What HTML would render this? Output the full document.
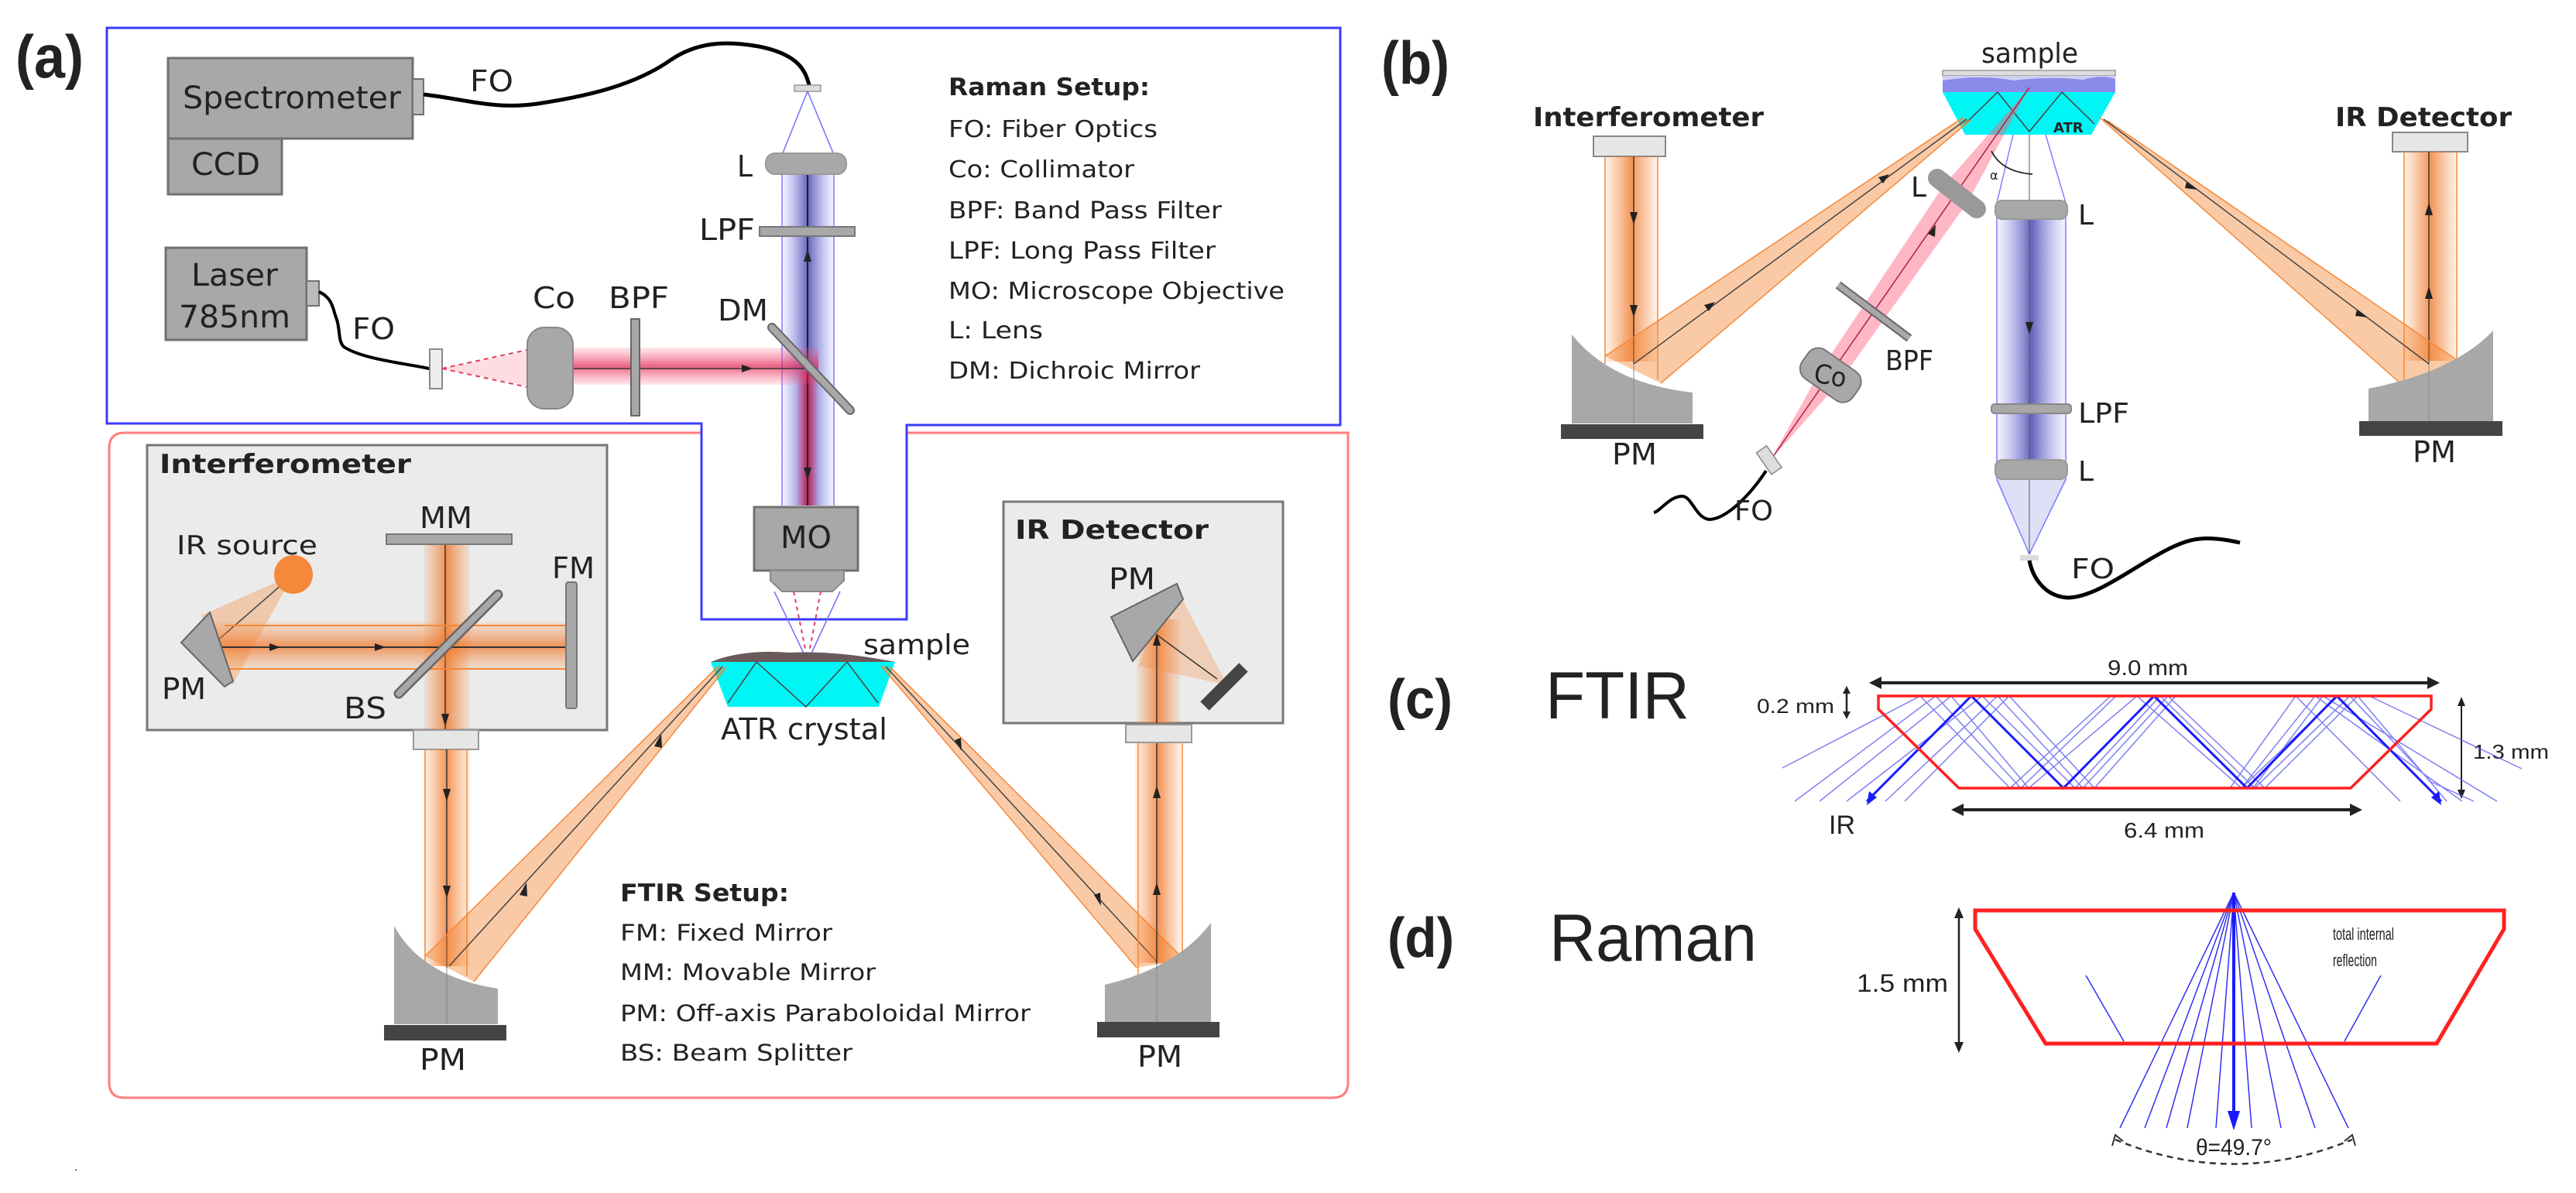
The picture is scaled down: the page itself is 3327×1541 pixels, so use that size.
<!DOCTYPE html>
<html><head><meta charset="utf-8"><style>
html,body{margin:0;padding:0;background:#fff;}
svg{display:block;}
text{font-family:"DejaVu Sans","Liberation Sans",sans-serif;fill:#222;}
.big{font-family:"Liberation Sans",sans-serif;}
</style></head><body>
<svg width="3327" height="1541" viewBox="0 0 3327 1541" xmlns="http://www.w3.org/2000/svg">
<defs>
<linearGradient id="bh" x1="0" x2="1" y1="0" y2="0">
<stop offset="0" stop-color="#8080ff" stop-opacity="0.05"/><stop offset="0.5" stop-color="#3030a0" stop-opacity="0.75"/><stop offset="1" stop-color="#8080ff" stop-opacity="0.05"/></linearGradient>
<linearGradient id="rh" x1="0" x2="1" y1="0" y2="0">
<stop offset="0" stop-color="#ff4060" stop-opacity="0.1"/><stop offset="0.5" stop-color="#d01040" stop-opacity="0.8"/><stop offset="1" stop-color="#ff4060" stop-opacity="0.1"/></linearGradient>
<linearGradient id="rv" x1="0" x2="0" y1="0" y2="1">
<stop offset="0" stop-color="#ff6080" stop-opacity="0.15"/><stop offset="0.5" stop-color="#e02050" stop-opacity="0.7"/><stop offset="1" stop-color="#ff6080" stop-opacity="0.15"/></linearGradient>
<linearGradient id="oh" x1="0" x2="1" y1="0" y2="0">
<stop offset="0" stop-color="#f58a3a" stop-opacity="0.1"/><stop offset="0.5" stop-color="#f07020" stop-opacity="0.75"/><stop offset="1" stop-color="#f58a3a" stop-opacity="0.1"/></linearGradient>
<linearGradient id="ov" x1="0" x2="0" y1="0" y2="1">
<stop offset="0" stop-color="#f58a3a" stop-opacity="0.1"/><stop offset="0.5" stop-color="#f07020" stop-opacity="0.7"/><stop offset="1" stop-color="#f58a3a" stop-opacity="0.1"/></linearGradient>
</defs>

<!-- ============ PANEL A ============ -->
<text x="20" y="100" class="big" font-size="78" font-weight="bold" fill="#000" textLength="88" lengthAdjust="spacingAndGlyphs">(a)</text>

<path d="M161,559 H1741 V1398 Q1741,1418 1721,1418 H161 Q141,1418 141,1398 V579 Q141,559 161,559 Z" fill="none" stroke="#ff7f7f" stroke-width="3"/>
<path d="M138,36 H1731 V549 H1171 V800 H906 V547 H138 Z" fill="#fff" stroke="#3b3bff" stroke-width="3"/>

<rect x="217" y="75" width="316" height="104" fill="#a8a8a8" stroke="#707070" stroke-width="3"/>
<rect x="533" y="102" width="14" height="46" fill="#bbb" stroke="#707070" stroke-width="2"/>
<rect x="217" y="179" width="147" height="72" fill="#a8a8a8" stroke="#707070" stroke-width="3"/>
<text x="236" y="140" font-size="40" textLength="282" lengthAdjust="spacingAndGlyphs">Spectrometer</text>
<text x="247" y="226" font-size="40" textLength="89" lengthAdjust="spacingAndGlyphs">CCD</text>
<text x="607" y="118" font-size="38" textLength="56" lengthAdjust="spacingAndGlyphs">FO</text>
<path d="M547,122 C600,128 640,142 694,134 C760,124 820,110 867,77 C900,55 935,52 980,60 C1030,70 1040,90 1045,110" fill="none" stroke="#000" stroke-width="5"/>
<rect x="1026" y="110" width="34" height="8" fill="#ddd" stroke="#999" stroke-width="1.5"/>

<rect x="214" y="320" width="182" height="119" fill="#a8a8a8" stroke="#707070" stroke-width="3"/>
<rect x="396" y="363" width="16" height="32" fill="#bbb" stroke="#707070" stroke-width="2"/>
<text x="247" y="369" font-size="40" textLength="112" lengthAdjust="spacingAndGlyphs">Laser</text>
<text x="231" y="423" font-size="40" textLength="144" lengthAdjust="spacingAndGlyphs">785nm</text>
<path d="M412,377 C430,385 430,400 434,410 C440,425 436,440 444,448 C470,465 530,470 558,477" fill="none" stroke="#000" stroke-width="4"/>
<text x="455" y="438" font-size="38" textLength="55" lengthAdjust="spacingAndGlyphs">FO</text>
<rect x="555" y="451" width="16" height="51" fill="#eee" stroke="#888" stroke-width="2"/>

<line x1="1043" y1="118" x2="1010" y2="200" stroke="#7070ff" stroke-width="1.5"/>
<line x1="1043" y1="118" x2="1077" y2="200" stroke="#7070ff" stroke-width="1.5"/>
<rect x="1008" y="212" width="71" height="441" fill="url(#bh)"/>
<line x1="1010" y1="212" x2="1010" y2="653" stroke="#8080ff" stroke-width="1.5"/>
<line x1="1077" y1="212" x2="1077" y2="653" stroke="#8080ff" stroke-width="1.5"/>
<rect x="1030" y="480" width="26" height="173" fill="url(#rh)"/>
<line x1="1043" y1="225" x2="1043" y2="653" stroke="#222" stroke-width="2"/>
<polygon points="1043,322 1038,338 1048,338" fill="#222"/>
<polygon points="1043,620 1038,604 1048,604" fill="#222"/>
<polygon points="571,476 690,452 690,500" fill="#ff9aaa" opacity="0.35"/>
<line x1="571" y1="476" x2="681" y2="452" stroke="#e04060" stroke-width="2" stroke-dasharray="6,5"/>
<line x1="571" y1="476" x2="681" y2="500" stroke="#e04060" stroke-width="2" stroke-dasharray="6,5"/>
<rect x="740" y="449" width="317" height="48" fill="url(#rv)"/>
<line x1="740" y1="476" x2="1045" y2="476" stroke="#333" stroke-width="1.5"/>
<polygon points="972,476 958,471 958,481" fill="#222"/>
<rect x="681" y="423" width="59" height="105" rx="22" fill="#a8a8a8" stroke="#888" stroke-width="2"/>
<rect x="815" y="412" width="11" height="125" fill="#a8a8a8" stroke="#666" stroke-width="2"/>
<text x="688" y="398" font-size="38" textLength="55" lengthAdjust="spacingAndGlyphs">Co</text>
<text x="786" y="398" font-size="38" textLength="78" lengthAdjust="spacingAndGlyphs">BPF</text>
<line x1="997" y1="423" x2="1098" y2="530" stroke="#666" stroke-width="12" stroke-linecap="round"/>
<line x1="997" y1="423" x2="1098" y2="530" stroke="#a8a8a8" stroke-width="8" stroke-linecap="round"/>
<text x="927" y="414" font-size="38" textLength="65" lengthAdjust="spacingAndGlyphs">DM</text>
<rect x="989" y="198" width="104" height="27" rx="12" fill="#a8a8a8" stroke="#999" stroke-width="2"/>
<text x="952" y="228" font-size="38" textLength="20" lengthAdjust="spacingAndGlyphs">L</text>
<rect x="981" y="293" width="123" height="12" fill="#a8a8a8" stroke="#777" stroke-width="2"/>
<text x="903" y="310" font-size="38" textLength="72" lengthAdjust="spacingAndGlyphs">LPF</text>

<text x="1225" y="123" font-size="31" font-weight="bold" fill="#111" textLength="260" lengthAdjust="spacingAndGlyphs">Raman Setup:</text>
<g font-size="30" fill="#333">
<text x="1225" y="177" textLength="270" lengthAdjust="spacingAndGlyphs">FO: Fiber Optics</text>
<text x="1225" y="229" textLength="240" lengthAdjust="spacingAndGlyphs">Co: Collimator</text>
<text x="1225" y="282" textLength="353" lengthAdjust="spacingAndGlyphs">BPF: Band Pass Filter</text>
<text x="1225" y="334" textLength="345" lengthAdjust="spacingAndGlyphs">LPF: Long Pass Filter</text>
<text x="1225" y="386" textLength="434" lengthAdjust="spacingAndGlyphs">MO: Microscope Objective</text>
<text x="1225" y="437" textLength="122" lengthAdjust="spacingAndGlyphs">L: Lens</text>
<text x="1225" y="489" textLength="325" lengthAdjust="spacingAndGlyphs">DM: Dichroic Mirror</text>
</g>

<rect x="974" y="655" width="134" height="82" fill="#a8a8a8" stroke="#707070" stroke-width="3"/>
<path d="M995,737 H1090 V750 L1075,764 H1010 L995,750 Z" fill="#a8a8a8" stroke="#888" stroke-width="2"/>
<text x="1008" y="708" font-size="40" textLength="66" lengthAdjust="spacingAndGlyphs">MO</text>
<line x1="1000" y1="764" x2="1040" y2="848" stroke="#7070ff" stroke-width="1.5"/>
<line x1="1085" y1="764" x2="1046" y2="848" stroke="#7070ff" stroke-width="1.5"/>
<line x1="1025" y1="764" x2="1042" y2="848" stroke="#e04060" stroke-width="2" stroke-dasharray="5,5"/>
<line x1="1060" y1="764" x2="1044" y2="848" stroke="#e04060" stroke-width="2" stroke-dasharray="5,5"/>

<polygon points="918,855 1156,855 1135,913 940,913" fill="#00f5f5"/>
<path d="M918,855 Q960,838 1020,843 Q1080,840 1156,855 Z" fill="#6a5a5a"/>
<polyline points="940,908 977,855 1041,913 1094,855 1134,908" fill="none" stroke="#444" stroke-width="1.5"/>
<text x="1115" y="845" font-size="36" textLength="138" lengthAdjust="spacingAndGlyphs">sample</text>
<text x="931" y="955" font-size="38" textLength="215" lengthAdjust="spacingAndGlyphs">ATR crystal</text>

<rect x="190" y="575" width="594" height="368" fill="#ebebeb" stroke="#777" stroke-width="3"/>
<text x="206" y="611" font-size="34" font-weight="bold" fill="#111" textLength="325" lengthAdjust="spacingAndGlyphs">Interferometer</text>
<text x="228" y="716" font-size="34" textLength="182" lengthAdjust="spacingAndGlyphs">IR source</text>
<polygon points="379,742 260,795 300,885" fill="#f58a3a" opacity="0.35"/>
<line x1="379" y1="742" x2="271" y2="836" stroke="#444" stroke-width="1.5"/>
<circle cx="379" cy="742" r="25" fill="#f5883a"/>
<rect x="547" y="703" width="60" height="240" fill="url(#oh)"/>
<line x1="575" y1="703" x2="575" y2="943" stroke="#333" stroke-width="1.5"/>
<rect x="271" y="803" width="467" height="63" fill="url(#ov)"/>
<line x1="290" y1="808" x2="738" y2="808" stroke="#f5883a" stroke-width="2"/>
<line x1="290" y1="864" x2="738" y2="864" stroke="#f5883a" stroke-width="2"/>
<line x1="271" y1="836" x2="738" y2="836" stroke="#333" stroke-width="2"/>
<polygon points="362,836 348,831 348,841" fill="#222"/>
<polygon points="498,836 484,831 484,841" fill="#222"/>
<polygon points="575,938 570,922 580,922" fill="#222"/>
<polygon points="234,830 271,791 301,880 290,887" fill="#a8a8a8" stroke="#666" stroke-width="2"/>
<text x="209" y="903" font-size="38" textLength="57" lengthAdjust="spacingAndGlyphs">PM</text>
<rect x="499" y="690" width="162" height="13" fill="#a8a8a8" stroke="#777" stroke-width="2"/>
<text x="542" y="682" font-size="38" textLength="68" lengthAdjust="spacingAndGlyphs">MM</text>
<rect x="731" y="752" width="14" height="163" rx="3" fill="#a8a8a8" stroke="#777" stroke-width="2"/>
<text x="713" y="747" font-size="38" textLength="55" lengthAdjust="spacingAndGlyphs">FM</text>
<line x1="515" y1="896" x2="643" y2="768" stroke="#666" stroke-width="13" stroke-linecap="round"/>
<line x1="515" y1="896" x2="643" y2="768" stroke="#a8a8a8" stroke-width="8" stroke-linecap="round"/>
<text x="444" y="928" font-size="38" textLength="55" lengthAdjust="spacingAndGlyphs">BS</text>
<rect x="534" y="943" width="84" height="25" fill="#e6e6e6" stroke="#999" stroke-width="2"/>

<rect x="547" y="968" width="60" height="280" fill="url(#oh)"/>
<line x1="549" y1="968" x2="549" y2="1250" stroke="#f5883a" stroke-width="1.5"/>
<line x1="603" y1="968" x2="603" y2="1260" stroke="#f5883a" stroke-width="1.5"/>
<line x1="577" y1="968" x2="577" y2="1250" stroke="#333" stroke-width="1.5"/>
<polygon points="577,1035 572,1019 582,1019" fill="#222"/>
<polygon points="577,1160 572,1144 582,1144" fill="#222"/>
<polygon points="549,1235 612,1268 938,862 928,860" fill="#f58a3a" opacity="0.45"/>
<line x1="549" y1="1235" x2="928" y2="860" stroke="#f5883a" stroke-width="1.5"/>
<line x1="612" y1="1268" x2="938" y2="862" stroke="#f5883a" stroke-width="1.5"/>
<line x1="580" y1="1248" x2="933" y2="861" stroke="#444" stroke-width="1.5"/>
<polygon points="854,948 845,964 855,966" fill="#222"/>
<polygon points="680,1140 671,1156 681,1158" fill="#222"/>
<path d="M509,1196 Q545,1262 643,1277 V1323 H509 Z" fill="#a8a8a8"/>
<line x1="577" y1="1250" x2="577" y2="1323" stroke="#888" stroke-width="1"/>
<rect x="496" y="1324" width="158" height="20" fill="#444"/>
<text x="542" y="1382" font-size="38" textLength="60" lengthAdjust="spacingAndGlyphs">PM</text>

<polygon points="1138,860 1150,862 1530,1240 1468,1250" fill="#f58a3a" opacity="0.45"/>
<line x1="1138" y1="860" x2="1468" y2="1250" stroke="#f5883a" stroke-width="1.5"/>
<line x1="1150" y1="862" x2="1530" y2="1240" stroke="#f5883a" stroke-width="1.5"/>
<line x1="1144" y1="861" x2="1494" y2="1242" stroke="#444" stroke-width="1.5"/>
<polygon points="1242,970 1233,956 1241,953" fill="#222"/>
<polygon points="1422,1170 1413,1156 1421,1153" fill="#222"/>
<rect x="1466" y="959" width="60" height="285" fill="url(#oh)"/>
<line x1="1470" y1="959" x2="1470" y2="1262" stroke="#f5883a" stroke-width="1.5"/>
<line x1="1527" y1="959" x2="1527" y2="1230" stroke="#f5883a" stroke-width="1.5"/>
<line x1="1494" y1="959" x2="1494" y2="1245" stroke="#333" stroke-width="1.5"/>
<polygon points="1494,1015 1489,1031 1499,1031" fill="#222"/>
<polygon points="1494,1140 1489,1156 1499,1156" fill="#222"/>
<path d="M1427,1272 Q1520,1250 1564,1192 V1320 H1427 Z" fill="#a8a8a8"/>
<line x1="1494" y1="1245" x2="1494" y2="1320" stroke="#888" stroke-width="1"/>
<rect x="1417" y="1320" width="158" height="20" fill="#444"/>
<text x="1469" y="1378" font-size="38" textLength="58" lengthAdjust="spacingAndGlyphs">PM</text>

<rect x="1296" y="648" width="361" height="286" fill="#ebebeb" stroke="#777" stroke-width="3"/>
<text x="1311" y="696" font-size="34" font-weight="bold" fill="#111" textLength="250" lengthAdjust="spacingAndGlyphs">IR Detector</text>
<text x="1432" y="761" font-size="38" textLength="60" lengthAdjust="spacingAndGlyphs">PM</text>
<rect x="1468" y="800" width="56" height="134" fill="url(#oh)"/>
<polygon points="1494,800 1525,770 1585,885 1470,860" fill="#f58a3a" opacity="0.3"/>
<line x1="1494" y1="934" x2="1494" y2="820" stroke="#333" stroke-width="1.5"/>
<polygon points="1494,818 1489,834 1499,834" fill="#222"/>
<line x1="1494" y1="820" x2="1572" y2="877" stroke="#333" stroke-width="1.5"/>
<polygon points="1435,797 1520,754 1528,774 1463,854" fill="#a8a8a8" stroke="#666" stroke-width="2"/>
<line x1="1556" y1="912" x2="1606" y2="862" stroke="#444" stroke-width="16"/>
<rect x="1454" y="936" width="85" height="23" fill="#e6e6e6" stroke="#999" stroke-width="2"/>

<text x="801" y="1164" font-size="31" font-weight="bold" fill="#111" textLength="218" lengthAdjust="spacingAndGlyphs">FTIR Setup:</text>
<g font-size="29" fill="#333">
<text x="801" y="1215" textLength="274" lengthAdjust="spacingAndGlyphs">FM: Fixed Mirror</text>
<text x="801" y="1266" textLength="330" lengthAdjust="spacingAndGlyphs">MM: Movable Mirror</text>
<text x="801" y="1319" textLength="530" lengthAdjust="spacingAndGlyphs">PM: Off-axis Paraboloidal Mirror</text>
<text x="801" y="1370" textLength="300" lengthAdjust="spacingAndGlyphs">BS: Beam Splitter</text>
</g>
<text x="96" y="1512" font-size="14" fill="#555">.</text>

<!-- ============ PANEL B ============ -->
<text x="1784" y="108" class="big" font-size="78" font-weight="bold" fill="#000" textLength="88" lengthAdjust="spacingAndGlyphs">(b)</text>
<text x="2559" y="81" font-size="36" textLength="125" lengthAdjust="spacingAndGlyphs">sample</text>
<rect x="2509" y="91" width="223" height="7" fill="#ddd" stroke="#999" stroke-width="1.5"/>
<path d="M2509,98 H2732 V119 H2509 Z" fill="#8a8ae8"/>
<path d="M2509,104 Q2560,96 2600,104 Q2650,98 2690,103 Q2715,96 2732,102 V98 H2509 Z" fill="#fff" opacity="0.6"/>
<polygon points="2509,119 2732,119 2701,174 2538,174" fill="#00f5f5"/>
<polyline points="2538,160 2580,119 2621,170 2663,119 2705,160" fill="none" stroke="#444" stroke-width="1.5"/>
<text x="2652" y="171" font-size="18" font-weight="bold" fill="#333">ATR</text>

<text x="1980" y="163" font-size="34" font-weight="bold" fill="#111" textLength="298" lengthAdjust="spacingAndGlyphs">Interferometer</text>
<rect x="2058" y="176" width="93" height="26" fill="#e6e6e6" stroke="#888" stroke-width="2"/>
<rect x="2073" y="202" width="68" height="265" fill="url(#oh)"/>
<line x1="2073" y1="202" x2="2073" y2="470" stroke="#f5883a" stroke-width="1.5"/>
<line x1="2141" y1="202" x2="2141" y2="490" stroke="#f5883a" stroke-width="1.5"/>
<line x1="2110" y1="202" x2="2110" y2="470" stroke="#333" stroke-width="1.5"/>
<polygon points="2110,290 2105,274 2115,274" fill="#222"/>
<polygon points="2110,410 2105,394 2115,394" fill="#222"/>
<polygon points="2073,460 2145,495 2545,155 2535,152" fill="#f58a3a" opacity="0.45"/>
<line x1="2073" y1="460" x2="2535" y2="152" stroke="#f5883a" stroke-width="1.5"/>
<line x1="2145" y1="495" x2="2545" y2="155" stroke="#f5883a" stroke-width="1.5"/>
<line x1="2110" y1="470" x2="2540" y2="154" stroke="#444" stroke-width="1.5"/>
<polygon points="2440,225 2426,229 2432,237" fill="#222"/>
<polygon points="2215,390 2201,394 2207,402" fill="#222"/>
<path d="M2030,432 Q2080,495 2186,507 V547 H2030 Z" fill="#a8a8a8"/>
<line x1="2110" y1="470" x2="2110" y2="547" stroke="#888" stroke-width="1"/>
<rect x="2016" y="548" width="184" height="19" fill="#444"/>
<text x="2082" y="600" font-size="38" textLength="58" lengthAdjust="spacingAndGlyphs">PM</text>

<text x="3016" y="163" font-size="34" font-weight="bold" fill="#111" textLength="228" lengthAdjust="spacingAndGlyphs">IR Detector</text>
<rect x="3090" y="171" width="97" height="25" fill="#e6e6e6" stroke="#888" stroke-width="2"/>
<rect x="3105" y="196" width="68" height="270" fill="url(#oh)"/>
<line x1="3105" y1="196" x2="3105" y2="490" stroke="#f5883a" stroke-width="1.5"/>
<line x1="3173" y1="196" x2="3173" y2="470" stroke="#f5883a" stroke-width="1.5"/>
<line x1="3137" y1="196" x2="3137" y2="470" stroke="#333" stroke-width="1.5"/>
<polygon points="3137,262 3132,278 3142,278" fill="#222"/>
<polygon points="3137,370 3132,386 3142,386" fill="#222"/>
<polygon points="2712,152 2722,156 3173,465 3100,495" fill="#f58a3a" opacity="0.45"/>
<line x1="2712" y1="152" x2="3100" y2="495" stroke="#f5883a" stroke-width="1.5"/>
<line x1="2722" y1="156" x2="3173" y2="465" stroke="#f5883a" stroke-width="1.5"/>
<line x1="2717" y1="154" x2="3137" y2="470" stroke="#444" stroke-width="1.5"/>
<polygon points="2838,245 2824,235 2822,243" fill="#222"/>
<polygon points="3058,410 3044,400 3042,408" fill="#222"/>
<path d="M3059,502 Q3170,480 3220,427 V544 H3059 Z" fill="#a8a8a8"/>
<line x1="3137" y1="470" x2="3137" y2="544" stroke="#888" stroke-width="1"/>
<rect x="3047" y="544" width="185" height="19" fill="#444"/>
<text x="3116" y="597" font-size="38" textLength="56" lengthAdjust="spacingAndGlyphs">PM</text>

<line x1="2600" y1="174" x2="2579" y2="262" stroke="#8080ff" stroke-width="1.5"/>
<line x1="2642" y1="174" x2="2668" y2="262" stroke="#8080ff" stroke-width="1.5"/>
<rect x="2577" y="268" width="93" height="351" fill="url(#bh)"/>
<line x1="2579" y1="268" x2="2579" y2="619" stroke="#8080ff" stroke-width="1.5"/>
<line x1="2668" y1="268" x2="2668" y2="619" stroke="#8080ff" stroke-width="1.5"/>
<polygon points="2577,619 2670,619 2621,716" fill="#c0c0f0" opacity="0.5"/>
<line x1="2579" y1="619" x2="2621" y2="716" stroke="#8080ff" stroke-width="1.5"/>
<line x1="2668" y1="619" x2="2621" y2="716" stroke="#8080ff" stroke-width="1.5"/>
<line x1="2621" y1="174" x2="2621" y2="716" stroke="#555" stroke-width="1"/>
<polygon points="2621,432 2616,416 2626,416" fill="#222"/>
<rect x="2577" y="259" width="93" height="24" rx="9" fill="#a8a8a8" stroke="#999" stroke-width="2"/>
<text x="2684" y="290" font-size="36" textLength="20" lengthAdjust="spacingAndGlyphs">L</text>
<rect x="2572" y="522" width="103" height="12" rx="4" fill="#a8a8a8" stroke="#888" stroke-width="2"/>
<text x="2684" y="546" font-size="36" textLength="66" lengthAdjust="spacingAndGlyphs">LPF</text>
<rect x="2577" y="594" width="93" height="25" rx="9" fill="#a8a8a8" stroke="#999" stroke-width="2"/>
<text x="2684" y="621" font-size="36" textLength="20" lengthAdjust="spacingAndGlyphs">L</text>
<rect x="2609" y="717" width="24" height="7" fill="#ddd"/>
<path d="M2621,724 C2625,745 2640,770 2670,772 C2720,772 2790,700 2841,696 C2860,694 2880,698 2893,701" fill="none" stroke="#000" stroke-width="5"/>
<text x="2675" y="747" font-size="36" textLength="56" lengthAdjust="spacingAndGlyphs">FO</text>

<polygon points="2287,594 2376,493 2542,260 2621,113 2510,240 2352,477" fill="#ff6080" opacity="0.45"/>
<line x1="2287" y1="594" x2="2621" y2="113" stroke="#b02040" stroke-width="1.5"/>
<polygon points="2500,290 2490,302 2499,306" fill="#222"/>
<rect x="2342" y="445" width="45" height="80" rx="16" fill="#a8a8a8" stroke="#777" stroke-width="2" transform="rotate(-55 2364 485)"/>
<text x="2343" y="497" font-size="34" transform="rotate(10 2364 485)" textLength="42" lengthAdjust="spacingAndGlyphs">Co</text>
<line x1="2374" y1="368" x2="2466" y2="437" stroke="#666" stroke-width="11"/>
<line x1="2374" y1="368" x2="2466" y2="437" stroke="#a8a8a8" stroke-width="7"/>
<text x="2435" y="478" font-size="36" textLength="62" lengthAdjust="spacingAndGlyphs">BPF</text>
<line x1="2502" y1="230" x2="2553" y2="270" stroke="#999" stroke-width="24" stroke-linecap="round"/>
<text x="2468" y="254" font-size="36" textLength="20" lengthAdjust="spacingAndGlyphs">L</text>
<path d="M2572,195 Q2585,222 2625,225" fill="none" stroke="#333" stroke-width="2"/>
<text x="2570" y="232" font-size="16" fill="#333">α</text>
<rect x="2277" y="576" width="16" height="34" fill="#ddd" stroke="#888" stroke-width="1.5" transform="rotate(-35 2287 594)"/>
<path d="M2281,608 C2260,640 2230,670 2208,671 C2190,670 2185,640 2172,641 C2155,642 2145,660 2136,662" fill="none" stroke="#000" stroke-width="4"/>
<text x="2240" y="672" font-size="36" textLength="50" lengthAdjust="spacingAndGlyphs">FO</text>

<!-- ============ PANEL C ============ -->
<text x="1792" y="928" class="big" font-size="72" font-weight="bold" fill="#000" textLength="84" lengthAdjust="spacingAndGlyphs">(c)</text>
<text x="1996" y="928" class="big" font-size="86" fill="#000" textLength="186" lengthAdjust="spacingAndGlyphs">FTIR</text>
<text x="2722" y="872" class="big" font-size="28" fill="#333" textLength="104" lengthAdjust="spacingAndGlyphs">9.0 mm</text>
<line x1="2422" y1="882" x2="3143" y2="882" stroke="#222" stroke-width="4"/>
<polygon points="2414,882 2430,874 2430,890" fill="#222"/>
<polygon points="3151,882 3135,874 3135,890" fill="#222"/>
<text x="2269" y="921" class="big" font-size="26" fill="#333" textLength="100" lengthAdjust="spacingAndGlyphs">0.2 mm</text>
<line x1="2385" y1="890" x2="2385" y2="925" stroke="#222" stroke-width="2.5"/>
<polygon points="2385,886 2380,896 2390,896" fill="#222"/>
<polygon points="2385,929 2380,919 2390,919" fill="#222"/>
<line x1="3179" y1="908" x2="3179" y2="1025" stroke="#222" stroke-width="2"/>
<polygon points="3179,900 3174,912 3184,912" fill="#222"/>
<polygon points="3179,1032 3174,1020 3184,1020" fill="#222"/>
<text x="3194" y="980" class="big" font-size="26" fill="#333" textLength="98" lengthAdjust="spacingAndGlyphs">1.3 mm</text>
<line x1="2528" y1="1046" x2="3043" y2="1046" stroke="#222" stroke-width="4"/>
<polygon points="2520,1046 2536,1038 2536,1054" fill="#222"/>
<polygon points="3051,1046 3035,1038 3035,1054" fill="#222"/>
<text x="2743" y="1082" class="big" font-size="28" fill="#333" textLength="104" lengthAdjust="spacingAndGlyphs">6.4 mm</text>
<text x="2362" y="1077" class="big" font-size="34" fill="#333" textLength="34" lengthAdjust="spacingAndGlyphs">IR</text>
<g fill="none" stroke="#6060f0" stroke-width="1.5" opacity="0.8">
<polyline points="2302,992 2480,899 2596,1018 2726,899"/>
<polyline points="2318,1035 2500,899 2610,1018 2733,899"/>
<polyline points="2350,1035 2520,899 2620,1018 2760,899 2895,1018 3020,899"/>
<polyline points="2385,1035 2560,899 2680,1018 2790,899 2912,1018 3035,899 3140,1010 3195,1035"/>
<polyline points="2435,1035 2580,899 2690,1018 2800,899 2925,1018 3045,899 3160,1035"/>
<polyline points="2460,1035 2595,899 2705,1018 2810,899"/>
<polyline points="2880,1018 2965,899 3100,1035"/>
<polyline points="2895,1018 2990,899 3180,1035"/>
<polyline points="2910,1018 3000,899 3225,1035"/>
<polyline points="3060,899 3257,993"/>
</g>
<polyline points="2411,1035 2546,899 2665,1018 2782,899 2902,1018 3018,899 3153,1035" fill="none" stroke="#1a1aff" stroke-width="3"/>
<polygon points="2411,1040 2414,1022 2424,1030" fill="#1a1aff"/>
<polygon points="3153,1040 3140,1030 3150,1022" fill="#1a1aff"/>
<polygon points="2426,899 3140,899 3140,916 3036,1018 2530,1018 2426,916" fill="none" stroke="#ff2020" stroke-width="3.5"/>

<!-- ============ PANEL D ============ -->
<text x="1792" y="1236" class="big" font-size="72" font-weight="bold" fill="#000" textLength="86" lengthAdjust="spacingAndGlyphs">(d)</text>
<text x="2001" y="1241" class="big" font-size="86" fill="#000" textLength="268" lengthAdjust="spacingAndGlyphs">Raman</text>
<g stroke="#3030f0" stroke-width="1.5" fill="none">
<line x1="2885" y1="1153" x2="2738" y2="1457"/>
<line x1="2885" y1="1153" x2="2770" y2="1457"/>
<line x1="2885" y1="1153" x2="2798" y2="1457"/>
<line x1="2885" y1="1153" x2="2825" y2="1457"/>
<line x1="2885" y1="1153" x2="2862" y2="1457"/>
<line x1="2885" y1="1153" x2="2908" y2="1457"/>
<line x1="2885" y1="1153" x2="2946" y2="1457"/>
<line x1="2885" y1="1153" x2="2990" y2="1457"/>
<line x1="2885" y1="1153" x2="3033" y2="1457"/>
<line x1="2743" y1="1345" x2="2694" y2="1260"/>
<line x1="3028" y1="1345" x2="3075" y2="1260"/>
</g>
<line x1="2885" y1="1153" x2="2885" y2="1440" stroke="#1a1aff" stroke-width="4"/>
<polygon points="2885,1460 2877,1435 2893,1435" fill="#1a1aff"/>
<polygon points="2551,1176 3234,1176 3234,1200 3147,1348 2642,1348 2551,1200" fill="none" stroke="#ff2020" stroke-width="5"/>
<line x1="2530" y1="1182" x2="2530" y2="1350" stroke="#222" stroke-width="2.5"/>
<polygon points="2530,1172 2524,1186 2536,1186" fill="#222"/>
<polygon points="2530,1360 2524,1346 2536,1346" fill="#222"/>
<text x="2398" y="1281" class="big" font-size="32" fill="#333" textLength="118" lengthAdjust="spacingAndGlyphs">1.5 mm</text>
<text x="3013" y="1214" class="big" font-size="22" fill="#444" textLength="79" lengthAdjust="spacingAndGlyphs">total internal</text>
<text x="3013" y="1248" class="big" font-size="22" fill="#444" textLength="57" lengthAdjust="spacingAndGlyphs">reflection</text>
<path d="M2732,1472 Q2885,1535 3038,1472" fill="none" stroke="#333" stroke-width="2.5" stroke-dasharray="8,6"/>
<polyline points="2728,1480 2732,1466 2742,1474" fill="none" stroke="#333" stroke-width="2"/>
<polyline points="3028,1474 3038,1466 3042,1480" fill="none" stroke="#333" stroke-width="2"/>
<text x="2836" y="1492" class="big" font-size="30" fill="#333" textLength="98" lengthAdjust="spacingAndGlyphs">θ=49.7°</text>
</svg>
</body></html>
